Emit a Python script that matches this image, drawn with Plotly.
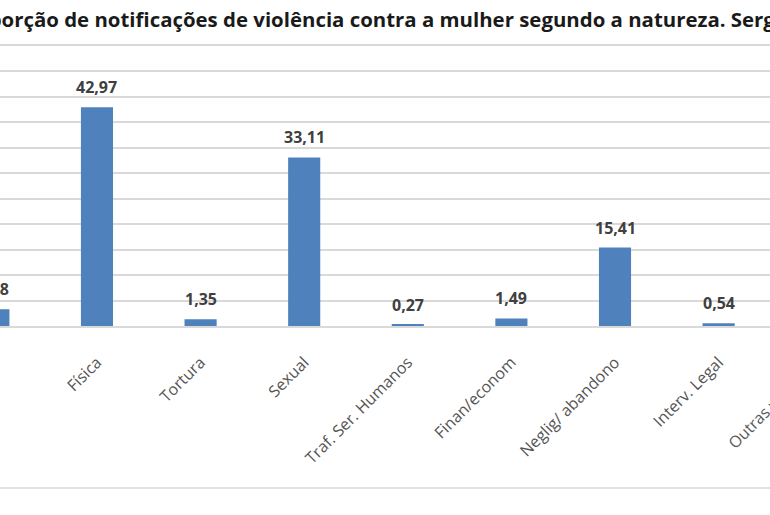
import plotly.graph_objects as go

# ---- data ----
categories = [
    "Psico/moral",
    "Física",
    "Tortura",
    "Sexual",
    "Traf. Ser. Humanos",
    "Finan/econom",
    "Neglig/ abandono",
    "Interv. Legal",
    "Outras violências",
]
percent = [3.28, 42.97, 1.35, 33.11, 0.27, 1.49, 15.41, 0.54, 1.58]
title_text = "Proporção de notificações de violência contra a mulher segundo a natureza. Sergipe"

positions = list(range(len(categories)))
labels = [f"{v:.2f}".replace(".", ",") for v in percent]

# visible window of the (cropped) chart, in category units
x_range = [0.064, 7.496]


def to_paper(p):
    # category position -> paper fraction, same linear scale as the x axis
    return (p - x_range[0]) / (x_range[1] - x_range[0])


BLUE = "#4F81BD"
GRID = "#d9d9d9"
FONT = "Open Sans"

fig = go.Figure()

fig.add_trace(
    go.Bar(
        x=positions,
        y=percent,
        marker=dict(color=BLUE, line=dict(width=0)),
        width=0.31,
        hoverinfo="skip",
    )
)

# ---- value labels above bars ----
for p, v, t in zip(positions, percent, labels):
    fig.add_annotation(
        x=to_paper(p),
        y=v,
        xref="paper",
        yref="y",
        text=t,
        showarrow=False,
        xanchor="center",
        yanchor="middle",
        yshift=20,
        font=dict(family=FONT, size=16, color="#404040", weight="bold"),
    )

# ---- category label that falls outside the visible window ----
for p, c in zip(positions, categories):
    if p > x_range[1]:
        fig.add_annotation(
            x=to_paper(p),
            y=0,
            xref="paper",
            yref="paper",
            text=c,
            showarrow=False,
            textangle=-45,
            xanchor="right",
            yanchor="top",
            xshift=10,
            yshift=-18,
            font=dict(family=FONT, size=16, color="#595959"),
        )

# ---- title (cropped at both sides like the source image) ----
fig.add_annotation(
    x=-0.062,
    y=1.096,
    xref="paper",
    yref="paper",
    text=title_text,
    showarrow=False,
    xanchor="left",
    yanchor="middle",
    font=dict(family=FONT, size=20.4, color="#1a1a1a", weight="bold"),
)

# frame line at the bottom
fig.add_shape(
    type="line",
    xref="paper",
    yref="paper",
    x0=0,
    x1=1,
    y0=-0.579,
    y1=-0.579,
    line=dict(color=GRID, width=1.5),
)

fig.update_layout(
    width=770,
    height=515,
    margin=dict(l=0, r=0, t=46, b=189),
    paper_bgcolor="white",
    plot_bgcolor="white",
    showlegend=False,
    font=dict(family=FONT),
)

fig.update_xaxes(
    type="linear",
    range=x_range,
    tickvals=positions,
    ticktext=categories,
    tickangle=-45,
    tickfont=dict(family=FONT, size=16, color="#555555"),
    ticks="",
    ticklabelstandoff=19,
    showgrid=False,
    zeroline=False,
    showline=True,
    mirror=True,
    linecolor=GRID,
    linewidth=1.5,
)

fig.update_yaxes(
    range=[0, 55],
    dtick=5,
    showticklabels=False,
    showgrid=True,
    gridcolor=GRID,
    gridwidth=1.5,
    zeroline=False,
)

fig.write_html(
    "out.html",
    config={"displayModeBar": False},
    post_script="document.body.style.margin = '0';",
)
